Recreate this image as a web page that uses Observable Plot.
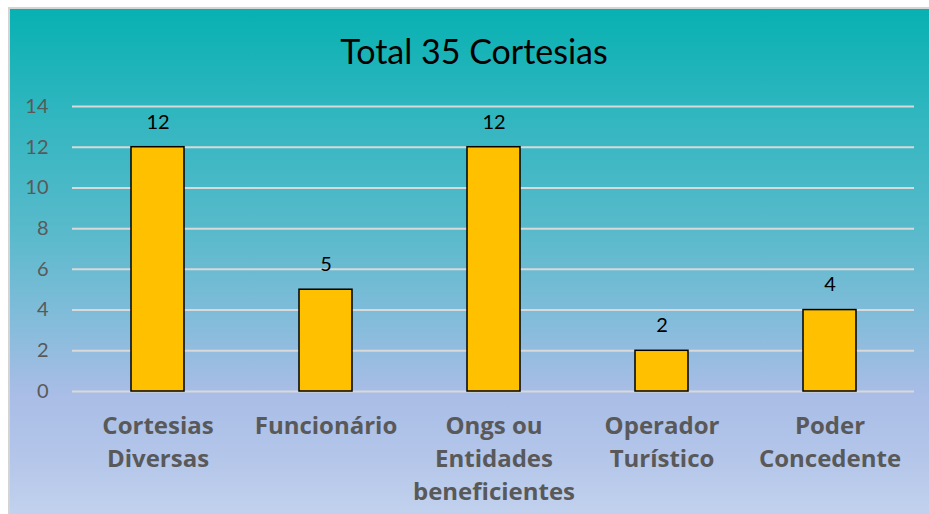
<!DOCTYPE html>
<html>
<head>
<meta charset="utf-8">
<script src="https://cdn.jsdelivr.net/npm/d3@7"></script>
<script src="https://cdn.jsdelivr.net/npm/@observablehq/plot@0.6"></script>
<style>
  html, body { margin: 0; padding: 0; background: #fff; width: 929px; height: 514px; overflow: hidden; }
  #chart {
    position: absolute; left: 8px; top: 7px; width: 921px; height: 507px;
    border-left: 2px solid #d4d4d4; border-top: 2px solid #d4d4d4;
    background: linear-gradient(to bottom, #07b1b2 0%, #2fb6bf 20%, #5bbacc 45%, #80bcd9 60%, #a9bde6 76%, #b3c5e9 88%, #c2d2ee 100%);
    overflow: hidden;
  }
  #title {
    position: absolute; left: 9px; width: 930px; top: 31px; text-align: center;
    font-family: Lato, sans-serif; font-size: 34px; line-height: 40px; color: #000;
  }
  #plot { position: absolute; left: 0; top: 0; }
</style>
</head>
<body>
<div id="chart">
  <div id="plot"></div>
</div>
<div id="title">Total 35 Cortesias</div>
<script>
const categories = ["Cortesias Diversas", "Funcionário", "Ongs ou Entidades beneficientes", "Operador Turístico", "Poder Concedente"];
const categoryLines = ["Cortesias\nDiversas", "Funcionário", "Ongs ou\nEntidades\nbeneficientes", "Operador\nTurístico", "Poder\nConcedente"];
const values = [12, 5, 12, 2, 4];
const yTicks = [0, 2, 4, 6, 8, 10, 12, 14];

const data = categories.map((c, i) => ({category: c, value: values[i]}));
const lineMap = new Map(categories.map((c, i) => [c, categoryLines[i]]));

const plot = Plot.plot({
  width: 921,
  height: 507,
  marginTop: 97,
  marginBottom: 125,
  marginLeft: 62,
  marginRight: 17,
  style: {background: "transparent", overflow: "visible"},
  x: {domain: categories, paddingInner: 0.685, paddingOuter: 0.345, label: null},
  y: {domain: [0, 14], label: null},
  marks: [
    Plot.ruleY(yTicks, {stroke: "#d9d9d9", strokeWidth: 2}),
    Plot.axisY({ticks: yTicks, tickSize: 0, tickPadding: 24, fontSize: 20, fontFamily: "Lato, sans-serif", fill: "#595959", label: null}),
    Plot.axisX({tickSize: 0, tickPadding: 19, fontSize: 24, fontWeight: "bold", fontFamily: "'Open Sans', sans-serif", fill: "#595959", lineHeight: 1.38, tickFormat: d => lineMap.get(d), label: null}),
    Plot.barY(data, {x: "category", y: "value", fill: "#ffc000", stroke: "#000", strokeWidth: 1.5}),
    Plot.text(data, {x: "category", y: "value", text: d => String(d.value), dy: -25, fontSize: 20, fontFamily: "Lato, sans-serif", fill: "#000"})
  ]
});
document.getElementById("plot").appendChild(plot);
</script>
</body>
</html>
